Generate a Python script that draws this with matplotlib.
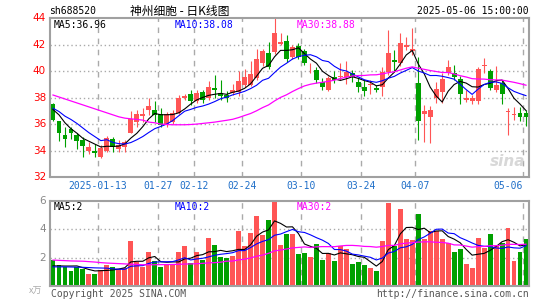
import matplotlib
matplotlib.use('Agg')
import matplotlib.pyplot as plt
import numpy as np

# ---------------- data ----------------
dates = ['2024-12-31',
 '2025-01-02','2025-01-03','2025-01-06','2025-01-07','2025-01-08','2025-01-09','2025-01-10',
 '2025-01-13','2025-01-14','2025-01-15','2025-01-16','2025-01-17','2025-01-20','2025-01-21',
 '2025-01-22','2025-01-23','2025-01-24','2025-01-27',
 '2025-02-05','2025-02-06','2025-02-07','2025-02-10','2025-02-11','2025-02-12','2025-02-13',
 '2025-02-14','2025-02-17','2025-02-18','2025-02-19','2025-02-20','2025-02-21','2025-02-24',
 '2025-02-25','2025-02-26','2025-02-27','2025-02-28',
 '2025-03-03','2025-03-04','2025-03-05','2025-03-06','2025-03-07','2025-03-10','2025-03-11',
 '2025-03-12','2025-03-13','2025-03-14','2025-03-17','2025-03-18','2025-03-19','2025-03-20',
 '2025-03-21','2025-03-24','2025-03-25','2025-03-26','2025-03-27','2025-03-28','2025-03-31',
 '2025-04-01','2025-04-02','2025-04-03','2025-04-07','2025-04-08','2025-04-09','2025-04-10',
 '2025-04-11','2025-04-14','2025-04-15','2025-04-16','2025-04-17','2025-04-18','2025-04-21',
 '2025-04-22','2025-04-23','2025-04-24','2025-04-25','2025-04-28','2025-04-29','2025-04-30',
 '2025-05-06']

opens = [37.5, 36.2, 35.15, 35.6, 35.2, 34.8, 34.0, 34.0, 33.52, 33.97,
         34.9, 34.15, 34.27, 35.3, 36.17, 36.6, 37.1, 37.1, 36.8, 36.04,
         36.17, 36.85, 38.0, 38.3, 37.76, 38.44, 38.0, 38.75, 38.35, 38.2,
         38.36, 38.4, 38.95, 38.95, 39.5, 40.6, 41.35, 41.47, 42.05, 42.3,
         41.1, 41.9, 41.52, 40.14, 40.08, 39.2, 38.57, 39.58, 39.53, 39.58,
         39.88, 39.15, 38.82, 38.95, 38.72, 38.82, 39.96, 40.84, 40.59, 41.85,
         41.55, 39.08, 36.8, 36.55, 37.94, 38.44, 39.83, 39.83, 39.38, 37.8,
         37.76, 37.76, 40.4, 40.0, 38.57, 39.12, 36.93, 36.67, 36.87, 36.87]
highs = [37.6, 36.25, 35.8, 35.8, 35.33, 35.03, 34.65, 34.53, 34.4, 35.08,
         35.0, 34.78, 34.78, 37.0, 37.05, 37.18, 38.0, 37.75, 37.18, 36.93,
         37.05, 38.2, 38.3, 38.57, 38.57, 38.57, 39.27, 39.7, 39.3, 38.5,
         39.0, 40.0, 40.2, 40.8, 41.7, 41.7, 42.23, 44.0, 42.86, 42.7,
         41.95, 42.1, 41.7, 40.6, 40.3, 39.5, 39.6, 40.0, 40.6, 40.75,
         40.1, 39.45, 39.3, 39.3, 38.95, 40.3, 43.1, 41.6, 42.9, 42.6,
         43.24, 41.05, 37.43, 37.35, 39.2, 39.84, 40.88, 40.5, 39.6, 38.6,
         38.2, 40.33, 40.98, 40.2, 40.4, 39.3, 37.2, 37.3, 37.3, 37.1]
lows = [36.2, 34.7, 34.27, 34.9, 34.1, 33.52, 33.77, 33.52, 33.45, 33.9,
        33.9, 33.9, 33.9, 35.29, 35.8, 36.17, 36.68, 36.17, 35.75, 35.8,
        36.04, 36.8, 37.86, 37.43, 37.56, 37.56, 37.8, 37.95, 37.8, 37.7,
        38.2, 38.1, 38.8, 38.9, 39.3, 40.4, 40.2, 41.3, 41.98, 40.7,
        40.9, 40.9, 40.45, 39.85, 39.1, 38.55, 38.5, 39.1, 39.33, 39.0,
        39.2, 38.45, 38.1, 38.25, 38.4, 38.1, 39.7, 39.96, 40.4, 41.6,
        41.2, 34.83, 34.65, 34.58, 37.56, 37.56, 39.7, 39.3, 37.5, 37.7,
        37.5, 37.5, 39.83, 38.55, 38.44, 37.5, 35.2, 36.3, 36.2, 35.87]
closes = [36.3, 35.35, 34.9, 35.3, 34.7, 34.35, 34.27, 33.8, 34.23, 34.98,
          34.27, 34.4, 34.65, 36.4, 36.8, 36.8, 37.35, 36.67, 35.92, 36.8,
          36.87, 38.0, 38.15, 37.76, 38.36, 37.8, 38.8, 38.55, 38.1, 38.0,
          38.57, 39.27, 39.58, 39.8, 40.9, 41.55, 40.33, 42.86, 42.23, 40.9,
          41.8, 41.05, 40.64, 40.2, 39.33, 38.77, 39.45, 39.33, 39.63, 39.96,
          39.53, 38.82, 38.52, 39.02, 38.57, 39.96, 41.35, 40.71, 42.15, 41.98,
          41.65, 36.24, 37.0, 37.1, 38.62, 39.38, 40.33, 39.53, 38.27, 38.0,
          38.0, 40.2, 40.5, 38.74, 38.95, 38.27, 37.0, 36.8, 36.55, 36.5]
volumes = [1.83, 1.48, 1.36, 1.06, 1.36, 1.2, 0.85, 0.85, 1.15, 1.45,
           1.35, 1.2, 1.3, 3.2, 1.67, 1.36, 2.42, 1.76, 1.36, 1.48,
           1.48, 2.42, 2.82, 1.62, 2.38, 1.83, 3.41, 2.89, 2.07, 1.95,
           2.12, 3.9, 2.82, 3.76, 4.96, 3.6, 4.66, 6.0, 2.89, 3.67,
           3.67, 2.26, 2.33, 2.07, 2.96, 1.86, 2.3, 1.76, 2.82, 2.61,
           1.55, 1.67, 1.48, 1.27, 1.06, 3.18, 5.86, 2.85, 5.43, 3.32,
           3.25, 5.08, 3.32, 3.88, 3.88, 3.32, 3.06, 2.4, 2.61, 1.55,
           1.27, 3.39, 2.68, 3.67, 2.89, 3.01, 4.09, 1.76, 2.4, 3.32]

ma5_head = [37.1, 36.7, 36.1, 35.65]
ma10_head = [37.2, 36.95, 36.6, 36.35, 36.05, 35.7, 35.35, 35.05, 34.75]
ma30_head = [38.2, 38.05, 37.9, 37.75, 37.6, 37.45, 37.3, 37.15, 37.0, 36.85,
             36.7, 36.55, 36.45, 36.4, 36.35, 36.3, 36.15, 36.1, 36.0, 35.97,
             35.95, 35.95, 35.95, 35.97, 36.0, 36.05, 36.1, 36.15, 36.22]
vma5_head = [1.42, 1.42, 1.41, 1.41]
vma10_head = [1.35, 1.35, 1.35, 1.34, 1.33, 1.32, 1.3, 1.28, 1.27]
vma30_head = [1.83, 1.81, 1.79, 1.77, 1.76, 1.75, 1.72, 1.69, 1.65, 1.62,
              1.6, 1.58, 1.56, 1.54, 1.52, 1.5, 1.5, 1.5, 1.51, 1.51,
              1.52, 1.53, 1.55, 1.56, 1.57, 1.6, 1.63, 1.65, 1.68]

tick_dates = ['2025-01-13', '2025-01-27', '2025-02-12', '2025-02-24',
              '2025-03-10', '2025-03-24', '2025-04-07', '2025-05-06']
tick_labels = ['2025-01-13', '01-27', '02-12', '02-24', '03-10', '03-24', '04-07', '05-06']
price_ticks = [44, 42, 40, 38, 36, 34, 32]
vol_ticks = [6, 4, 2]

title_code = 'sh688520'
title_name = '神州细胞 - 日K线图'
title_time = '2025-05-06 15:00:00'
ma_labels = ['MA5:36.96', 'MA10:38.08', 'MA30:38.88']
vma_labels = ['MA5:2', 'MA10:2', 'MA30:2']

# ---------------- helpers ----------------
def moving_avg(vals, n, head):
    out = list(head)
    for i in range(len(head), len(vals)):
        out.append(float(np.mean(vals[i - n + 1:i + 1])))
    return out

W, H = 545, 300
RED = '#ff5555'
GREEN = '#00a000'
GRID = '#aaaaaa'
FRAME = '#a0a0a0'
MONO = 'DejaVu Sans Mono'

def fx(x):
    return x / W

def fy(y):
    return 1 - y / H

fig = plt.figure(figsize=(W / 100, H / 100), dpi=100)
fig.patch.set_facecolor('white')

L, R = 50, 529
PT, PB = 18.3, 177
VT, VB = 201, 286
axp = fig.add_axes([fx(L), fy(PB), (R - L) / W, (PB - PT) / H])
axv = fig.add_axes([fx(L), fy(VB), (R - L) / W, (VB - VT) / H])

n = len(closes)
x = np.arange(n)
tick_pos = [dates.index(d) for d in tick_dates]

for ax in (axp, axv):
    ax.set_xlim(-0.5, n - 0.5)
    ax.set_xticks([])
    ax.set_yticks([])
    for s in ax.spines.values():
        s.set_color(FRAME)
        s.set_linewidth(1.5)
    for p in tick_pos:
        ax.axvline(p - 0.5, color=GRID, lw=1, ls=(0, (4, 4)), zorder=0)

axp.set_ylim(32, 44)
for v in [42, 40, 38, 36, 34]:
    axp.axhline(v, color=GRID, lw=1, ls=(0, (1, 2)), zorder=0)
axv.set_ylim(0, 6)
for v in [4, 2]:
    axv.axhline(v, color=GRID, lw=1, ls=(0, (1, 2)), zorder=0)

# candles
for i in range(n):
    o, h, l, c = opens[i], highs[i], lows[i], closes[i]
    col = RED if c >= o else GREEN
    axp.vlines(i, l, h, color=col, lw=0.8, zorder=2)
    body = max(abs(c - o), 0.06)
    axp.bar(i, body, bottom=min(o, c), width=0.82, color=col, linewidth=0, zorder=3)
    axv.bar(i, volumes[i], width=0.82, color=col, linewidth=0, zorder=2)

# moving averages
axp.plot(x, moving_avg(closes, 5, ma5_head), color='black', lw=0.8, zorder=4)
axp.plot(x, moving_avg(closes, 10, ma10_head), color='#0000ff', lw=0.8, zorder=4)
axp.plot(x, moving_avg(closes, 30, ma30_head), color='#ff00ff', lw=0.9, zorder=4)
axv.plot(x, moving_avg(volumes, 5, vma5_head), color='black', lw=0.8, zorder=4)
axv.plot(x, moving_avg(volumes, 10, vma10_head), color='#0000ff', lw=0.8, zorder=4)
axv.plot(x, moving_avg(volumes, 30, vma30_head), color='#ff00ff', lw=0.9, zorder=4)

# sina watermark
axp.text(0.955, 0.1, 'sina', transform=axp.transAxes, ha='center', va='center',
         fontsize=11, fontweight='bold', style='italic', color='#d8d8d8', zorder=1)

# y tick labels
for v in price_ticks:
    y = PT + (44 - v) / 12 * (PB - PT)
    fig.text(fx(46), fy(y), str(v), ha='right', va='center', fontsize=7.5, color='#ff0000')
for v in vol_ticks:
    y = VB - v / 6 * (VB - VT)
    fig.text(fx(46), fy(y), str(v), ha='right', va='center', fontsize=7.5, color='#888888')
fig.text(fx(42), fy(291), 'x万', ha='right', va='center', fontsize=6.5, color='#aaaaaa',
         family=['Noto Sans CJK SC', 'DejaVu Sans'])

# date labels
for p, lab in zip(tick_pos, tick_labels):
    xp = L + p * (R - L) / n
    ha = 'right' if p == n - 1 else 'center'
    fig.text(fx(xp), fy(186), lab, ha=ha, va='center', fontsize=7, color='#1e6ec8', family=MONO)

# titles
fig.text(fx(49), fy(11), title_code, ha='left', va='center', fontsize=7, color='black', family=MONO)
fig.text(fx(180), fy(11), title_name, ha='center', va='center', fontsize=8.5, color='black',
         family=['Noto Sans CJK SC', 'DejaVu Sans'])
fig.text(fx(529), fy(11), title_time, ha='right', va='center', fontsize=7, color='black', family=MONO)

# MA labels
fig.text(fx(54), fy(25), ma_labels[0], ha='left', va='center', fontsize=7, color='black', family=MONO)
fig.text(fx(175), fy(25), ma_labels[1], ha='left', va='center', fontsize=7, color='#0000ff', family=MONO)
fig.text(fx(297), fy(25), ma_labels[2], ha='left', va='center', fontsize=7, color='#ff00ff', family=MONO)
fig.text(fx(54), fy(207), vma_labels[0], ha='left', va='center', fontsize=7, color='black', family=MONO)
fig.text(fx(175), fy(207), vma_labels[1], ha='left', va='center', fontsize=7, color='#0000ff', family=MONO)
fig.text(fx(297), fy(207), vma_labels[2], ha='left', va='center', fontsize=7, color='#ff00ff', family=MONO)

# footer
fig.text(fx(51), fy(294), 'Copyright 2025 SINA.COM', ha='left', va='center', fontsize=7, color='#555555', family=MONO)
fig.text(fx(529), fy(294), 'http://finance.sina.com.cn', ha='right', va='center', fontsize=7, color='#555555', family=MONO)

fig.savefig('out.png', dpi=100)
